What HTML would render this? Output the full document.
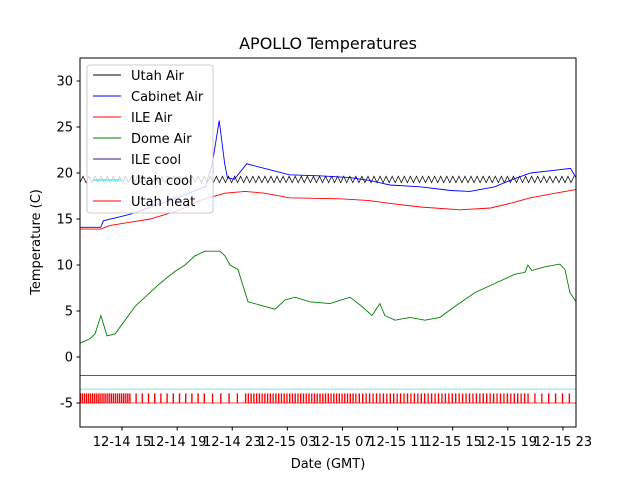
<!DOCTYPE html>
<html><head><meta charset="utf-8"><style>
body{margin:0;background:#fff}
svg{font-family:"DejaVu Sans","Liberation Sans",sans-serif}
</style></head><body>
<svg id="chart" width="640" height="480" xmlns="http://www.w3.org/2000/svg">
<rect width="640" height="480" fill="#fff"/>
<text x="328" y="49" font-size="16" text-anchor="middle">APOLLO Temperatures</text>
<g id="plot"></g>
<g id="axes"></g>
<text x="328" y="468" font-size="13" text-anchor="middle">Date (GMT)</text>
<text transform="translate(40,242) rotate(-90)" font-size="13" text-anchor="middle">Temperature (C)</text>
<g id="legend"></g>
</svg>
<script>
const xTickHours=[3.05,7.05,11.05,15.05,19.05,23.05,27.05,31.05,35.05];
const xTickLabels=["12-14 15","12-14 19","12-14 23","12-15 03","12-15 07","12-15 11","12-15 15","12-15 19","12-15 23"];
const yTicks=[-5,0,5,10,15,20,25,30];
const cabHours=[0,1.5,1.7,3.6,6.5,9.1,9.6,10.1,10.5,10.7,11.2,12.1,13.4,15.2,17.4,19.6,21,22.5,24.7,26.9,28.3,30.1,31.2,32.7,34.5,35.6,36];
const cabVals=[14.1,14.1,14.8,15.5,17,18.5,21,25.7,21,19.5,19.3,21,20.5,19.8,19.7,19.5,19.2,18.7,18.5,18.1,18,18.5,19.2,20,20.3,20.5,19.5];
const ileHours=[0,1.5,2.2,5.1,7.3,8.7,10.5,12,13.4,15.2,18.9,21,22.5,24.7,27.6,29.8,31.2,32.7,34.5,36];
const ileVals=[13.9,13.9,14.3,15,16,17,17.8,18,17.8,17.3,17.2,17,16.7,16.3,16,16.2,16.7,17.3,17.8,18.2];
const domeHours=[0,0.73,1.09,1.52,1.96,2.54,3.27,3.99,5.08,5.81,6.89,7.62,8.35,9.07,10.16,10.52,10.89,11.47,12.19,13.43,14.15,14.88,15.6,16.69,18.14,19.59,20.46,21.19,21.77,22.13,22.86,23.95,25.04,26.12,27.21,28.66,30.12,31.57,32.29,32.51,32.8,33.74,34.83,35.2,35.56,36];
const domeVals=[1.5,2,2.5,4.5,2.3,2.5,4,5.5,7,8,9.3,10,11,11.5,11.5,11,10,9.5,6,5.5,5.2,6.2,6.5,6,5.8,6.5,5.5,4.5,5.8,4.5,4,4.3,4,4.3,5.5,7,8,9,9.2,10,9.4,9.8,10.1,9.5,7,6];
const utahAirHours=[0,36];
const utahAirVals=[19.3,19.3];
const utahAirSwing=0.35;
const ileCoolVal=-2;
const utahCoolVal=-3.5;
const heatSegStart=[0,3.6,9,12,20,32.5];
const heatSegEnd=[3.6,9,12,20,32.5,36];
const heatSegPeriod=[0.15,0.45,0.6,0.2,0.25,0.5];

const X0=80,X1=576,Y0=58,Y1=427,HMAX=36,YMIN=-7.61,YMAX=32.5;
const sx=h=>X0+h/HMAX*(X1-X0);
const sy=v=>Y1-(v-YMIN)/(YMAX-YMIN)*(Y1-Y0);
const NS="http://www.w3.org/2000/svg";
function mk(tag,attrs,parent){const e=document.createElementNS(NS,tag);for(const k in attrs)e.setAttribute(k,attrs[k]);parent.appendChild(e);return e;}
const plot=document.getElementById('plot'),axes=document.getElementById('axes'),leg=document.getElementById('legend');
function interp(hs,vs,h){for(let i=1;i<hs.length;i++)if(h<=hs[i]){const t=(h-hs[i-1])/(hs[i]-hs[i-1]);return vs[i-1]+t*(vs[i]-vs[i-1]);}return vs[vs.length-1];}
function line(hs,vs,color,name,w){
  const p=hs.map((h,i)=>sx(h).toFixed(1)+','+sy(vs[i]).toFixed(1)).join(' ');
  const el=mk('polyline',{points:p,fill:'none',stroke:color,'stroke-width':w||0.9},plot);
  
  
}
line([0,36],[ileCoolVal,ileCoolVal],'#1f1f70','ile-cool-line',0.8);
line([0,36],[utahCoolVal,utahCoolVal],'#66e5e5','utah-cool-line',0.8);
{let d='M'+sx(0)+','+sy(-5);
for(let s=0;s<heatSegStart.length;s++){for(let h=heatSegStart[s];h<heatSegEnd[s];h+=heatSegPeriod[s]){const a=sx(h),b=sx(Math.min(h+0.04,36));d+=' L'+a.toFixed(1)+','+sy(-5).toFixed(1)+' L'+a.toFixed(1)+','+sy(-4).toFixed(1)+' L'+b.toFixed(1)+','+sy(-4).toFixed(1)+' L'+b.toFixed(1)+','+sy(-5).toFixed(1);}}
d+=' L'+sx(36)+','+sy(-5);
const el=mk('path',{d:d,fill:'none',stroke:'#f00','stroke-width':0.8},plot);

}
line(domeHours,domeVals,'#008000','dome-air-line');
{const hs=[],vs=[];let k=0;for(let h=0;h<=36;h+=0.22){hs.push(h);vs.push(interp(utahAirHours,utahAirVals,h)+(k%2?utahAirSwing:-utahAirSwing));k++;}line(hs,vs,'#000','utah-air-line',0.7);}
line(ileHours,ileVals,'#f00','ile-air-line');
line(cabHours,cabVals,'#00f','cabinet-air-line');
mk('rect',{x:X0,y:Y0,width:X1-X0,height:Y1-Y0,fill:'none',stroke:'#000','stroke-width':1},axes);
yTicks.forEach(v=>{const y=sy(v);mk('line',{x1:X0-3.5,x2:X0,y1:y,y2:y,stroke:'#000'},axes);
 const t=mk('text',{x:X0-7,y:y+4.5,'font-size':13,'text-anchor':'end'},axes);t.textContent=v;
 
 });
xTickHours.forEach((h,i)=>{const x=sx(h);mk('line',{x1:x,x2:x,y1:Y1,y2:Y1+3.5,stroke:'#000'},axes);
 const t=mk('text',{x:x,y:Y1+19,'font-size':13,'text-anchor':'middle'},axes);t.textContent=xTickLabels[i];
 
 });
const legNames=["Utah Air","Cabinet Air","ILE Air","Dome Air","ILE cool","Utah cool","Utah heat"];
const legColors=["#000","#00f","#f00","#008000","#1f1f70","#00e5e5","#f00"];
mk('rect',{x:87,y:65,width:126,height:148,rx:3,fill:'#fff','fill-opacity':0.8,stroke:'#ccc'},leg);
legNames.forEach((n,i)=>{const y=75+i*21;
 mk('line',{x1:93,x2:121,y1:y,y2:y,stroke:legColors[i],'stroke-width':0.9},leg);
 const t=mk('text',{x:131,y:y+5,'font-size':13},leg);t.textContent=n;
 
 });
</script>
</body></html>
